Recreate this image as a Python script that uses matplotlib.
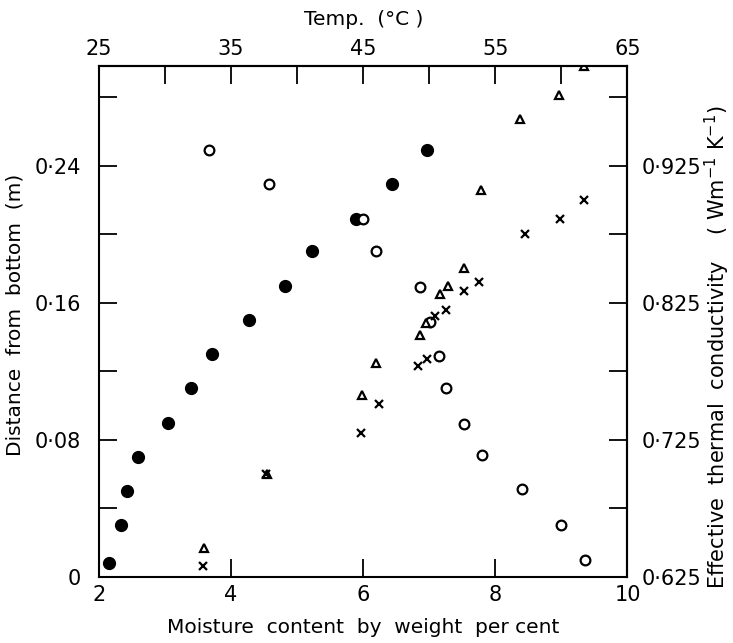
import numpy as np
import matplotlib.pyplot as plt
from matplotlib.ticker import FixedLocator, FuncFormatter

# moisture content (filled circles) vs distance from bottom
moist_x = [2.15, 2.34, 2.42, 2.59, 3.05, 3.39, 3.71, 4.27, 4.82, 5.22, 5.89, 6.44, 6.96]
moist_y = [0.008, 0.030, 0.050, 0.070, 0.090, 0.110, 0.130, 0.150, 0.170, 0.190, 0.209, 0.229, 0.249]

# open circles
circ_x = [3.67, 4.57, 6.00, 6.20, 6.86, 7.01, 7.15, 7.25, 7.52, 7.80, 8.40, 8.99, 9.35]
circ_y = [0.249, 0.229, 0.209, 0.190, 0.169, 0.149, 0.129, 0.110, 0.089, 0.071, 0.051, 0.030, 0.010]

# triangles
tri_x = [3.59, 4.54, 5.98, 6.20, 6.86, 6.95, 7.16, 7.28, 7.52, 7.78, 8.38, 8.96, 9.34]
tri_y = [0.017, 0.060, 0.106, 0.125, 0.141, 0.148, 0.165, 0.170, 0.180, 0.226, 0.267, 0.281, 0.298]

# crosses
crs_x = [3.57, 4.53, 5.97, 6.24, 6.83, 6.96, 7.09, 7.25, 7.52, 7.75, 8.45, 8.98, 9.34]
crs_y = [0.006, 0.060, 0.084, 0.101, 0.123, 0.127, 0.152, 0.156, 0.167, 0.172, 0.200, 0.209, 0.220]

left_ticks = [0, 0.04, 0.08, 0.12, 0.16, 0.20, 0.24, 0.28]
left_labels = [0, 0.08, 0.16, 0.24]
bottom_ticks = [2, 4, 6, 8, 10]
top_ticks = [25, 30, 35, 40, 45, 50, 55, 60, 65]
top_labels = [25, 35, 45, 55, 65]
right_ticks = [0.625, 0.675, 0.725, 0.775, 0.825, 0.875, 0.925, 0.975]
right_labels = [0.625, 0.725, 0.825, 0.925]


def dotfmt(v, pos):
    if abs(v) < 1e-9:
        return "0"
    s = ("%.3f" % v).rstrip("0")
    return s.replace(".", "\u00b7")


def intfmt(v, pos):
    return "%d" % round(v)


fig = plt.figure(figsize=(7.33, 6.43), dpi=100)
ax = fig.add_axes([0.135, 0.103, 0.721, 0.794])

ax.plot(moist_x, moist_y, 'o', color='black', ms=8.5, ls='none')
ax.plot(circ_x, circ_y, 'o', mfc='white', mec='black', mew=1.6, ms=7, ls='none')
ax.plot(tri_x, tri_y, '^', mfc='white', mec='black', mew=1.6, ms=5.5, ls='none')
ax.plot(crs_x, crs_y, 'x', color='black', mew=1.6, ms=6, ls='none')

ax.set_xlim(2, 10)
ax.set_ylim(0, 0.298)

tick_kw = dict(direction='in', length=13, width=1.3, labelsize=15, colors='black')

ax.yaxis.set_major_locator(FixedLocator(left_labels))
ax.yaxis.set_minor_locator(FixedLocator(left_ticks))
ax.yaxis.set_major_formatter(FuncFormatter(dotfmt))
ax.xaxis.set_major_locator(FixedLocator(bottom_ticks))
ax.xaxis.set_major_formatter(FuncFormatter(intfmt))
ax.tick_params(axis='both', which='both', **tick_kw)
ax.tick_params(axis='x', pad=6)
ax.tick_params(axis='y', pad=13)

top = ax.secondary_xaxis('top', functions=(lambda x: 25 + (x - 2) * 5,
                                            lambda t: 2 + (t - 25) / 5))
top.xaxis.set_major_locator(FixedLocator(top_labels))
top.xaxis.set_minor_locator(FixedLocator(top_ticks))
top.xaxis.set_major_formatter(FuncFormatter(intfmt))
top.tick_params(axis='x', which='both', **tick_kw)
top.tick_params(axis='x', pad=5)
top.set_xlabel("Temp.  (\u00b0C )", fontsize=14.5, labelpad=10)

right = ax.secondary_yaxis('right', functions=(lambda y: 0.625 + 1.25 * y,
                                                lambda k: (k - 0.625) / 1.25))
right.yaxis.set_major_locator(FixedLocator(right_labels))
right.yaxis.set_minor_locator(FixedLocator(right_ticks))
right.yaxis.set_major_formatter(FuncFormatter(dotfmt))
right.tick_params(axis='y', which='both', **tick_kw)
right.tick_params(axis='y', pad=10)
right.set_ylabel("Effective  thermal  conductivity    ( Wm$^{-1}$ K$^{-1}$)",
                 fontsize=15)
right.yaxis.set_label_coords(1.143, 0.45, transform=ax.transAxes)

for sp in list(ax.spines.values()) + [top.spines['top'], right.spines['right']]:
    sp.set_linewidth(1.5)

ax.set_xlabel("Moisture  content  by  weight  per cent", fontsize=14.5, labelpad=9)
ax.set_ylabel("Distance  from  bottom  (m)", fontsize=14.5)
ax.yaxis.set_label_coords(-0.14, 0.513)

fig.savefig("out.png", dpi=100)
